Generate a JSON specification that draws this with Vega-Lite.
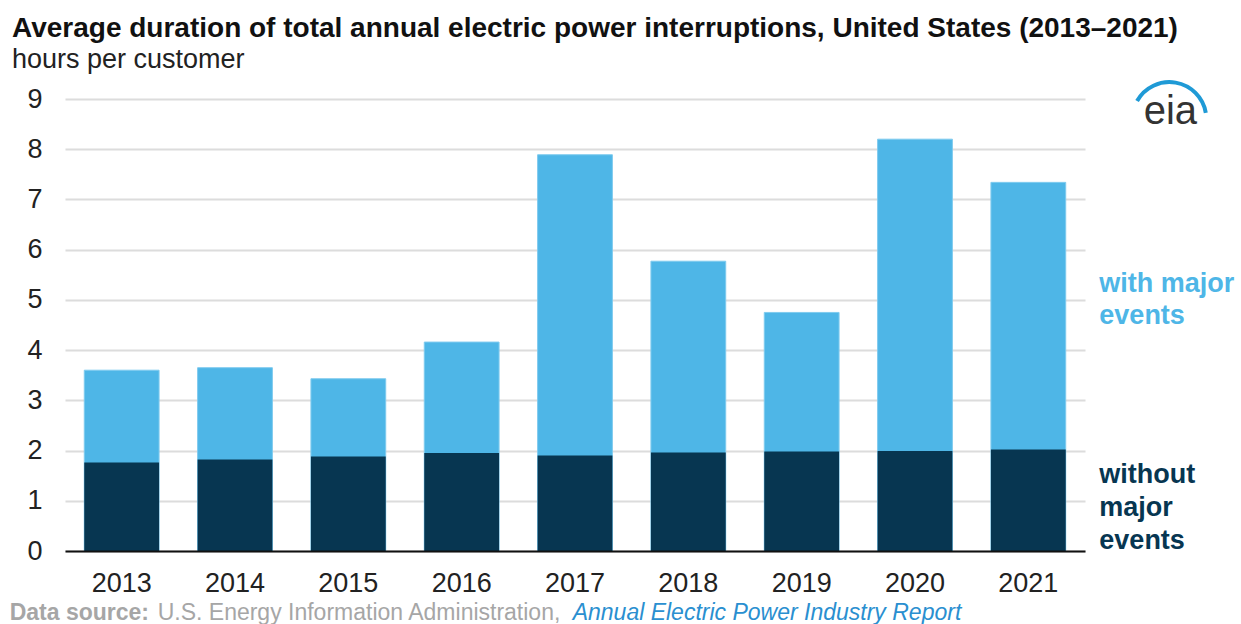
{
  "$schema": "https://vega.github.io/schema/vega-lite/v6.json",
  "width": 1020,
  "height": 452,
  "autosize": {"type": "none"},
  "padding": {"left": 65, "top": 99, "right": 156, "bottom": 73},
  "background": "white",
  "title": {
    "text": "Average duration of total annual electric power interruptions, United States (2013–2021)",
    "subtitle": "hours per customer",
    "anchor": "start",
    "frame": "group",
    "dx": -53,
    "offset": 7,
    "font": "Liberation Sans",
    "fontSize": 28,
    "fontWeight": "bold",
    "color": "#111111",
    "subtitleFont": "Liberation Sans",
    "subtitleFontSize": 27,
    "subtitleColor": "#222222",
    "subtitlePadding": 4
  },
  "config": {
    "view": {"stroke": null},
    "font": "Liberation Sans"
  },
  "datasets": {
    "interruptions": [
      {"year": "2013", "with_major_events": 3.60, "without_major_events": 1.76},
      {"year": "2014", "with_major_events": 3.65, "without_major_events": 1.82},
      {"year": "2015", "with_major_events": 3.43, "without_major_events": 1.88},
      {"year": "2016", "with_major_events": 4.16, "without_major_events": 1.95},
      {"year": "2017", "with_major_events": 7.89, "without_major_events": 1.90},
      {"year": "2018", "with_major_events": 5.77, "without_major_events": 1.96},
      {"year": "2019", "with_major_events": 4.75, "without_major_events": 1.98},
      {"year": "2020", "with_major_events": 8.20, "without_major_events": 1.99},
      {"year": "2021", "with_major_events": 7.34, "without_major_events": 2.02}
    ]
  },
  "layer": [
    {
      "data": {"name": "interruptions"},
      "mark": {"type": "bar", "color": "#4eb6e7", "stroke": "#7fcbef", "strokeWidth": 1},
      "encoding": {
        "x": {
          "field": "year", "type": "nominal", "title": null,
          "scale": {"domain": ["2013","2014","2015","2016","2017","2018","2019","2020","2021"], "paddingInner": 0.34, "paddingOuter": 0.17},
          "axis": {
            "title": null, "labelAngle": 0, "labelFontSize": 27, "labelColor": "#222222",
            "labelPadding": 19, "ticks": false, "domainColor": "#111111", "domainWidth": 2, "zindex": 1
          }
        },
        "y": {
          "field": "with_major_events", "type": "quantitative", "title": null,
          "scale": {"domain": [0, 9]},
          "axis": {
            "title": null, "values": [0,1,2,3,4,5,6,7,8,9], "labelFontSize": 27, "labelColor": "#222222",
            "labelPadding": 23, "ticks": false, "domain": false, "gridColor": "#dcdcdc", "gridWidth": 2
          }
        }
      }
    },
    {
      "data": {"name": "interruptions"},
      "mark": {"type": "bar", "color": "#073651"},
      "encoding": {
        "x": {"field": "year", "type": "nominal", "title": null},
        "y": {"field": "without_major_events", "type": "quantitative", "title": null}
      }
    },
    {
      "data": {"values": [{}]},
      "mark": {"type": "text", "text": ["with major", "events"], "align": "left", "baseline": "middle", "dx": 71, "fontSize": 27, "fontWeight": "bold", "color": "#4eb6e7", "lineHeight": 32},
      "encoding": {
        "x": {"datum": "2021", "type": "nominal"},
        "y": {"datum": 5.32, "type": "quantitative"}
      }
    },
    {
      "data": {"values": [{}]},
      "mark": {"type": "text", "text": ["without", "major", "events"], "align": "left", "baseline": "middle", "dx": 71, "fontSize": 27, "fontWeight": "bold", "color": "#073651", "lineHeight": 33},
      "encoding": {
        "x": {"datum": "2021", "type": "nominal"},
        "y": {"datum": 1.52, "type": "quantitative"}
      }
    },
    {
      "data": {"values": [{}]},
      "mark": {"type": "arc", "theta": -1.06, "theta2": 1.4, "innerRadius": 35, "outerRadius": 39, "color": "#1f9ad6", "xOffset": 141},
      "encoding": {
        "x": {"datum": "2021", "type": "nominal"},
        "y": {"datum": 8.6, "type": "quantitative"}
      }
    },
    {
      "data": {"values": [{}]},
      "mark": {"type": "text", "text": "eia", "align": "center", "baseline": "alphabetic", "dx": 142, "fontSize": 40, "fontWeight": "normal", "color": "#333333"},
      "encoding": {
        "x": {"datum": "2021", "type": "nominal"},
        "y": {"datum": 8.5, "type": "quantitative"}
      }
    },
    {
      "data": {"values": [{}]},
      "mark": {"type": "text", "text": "Data source:", "align": "left", "baseline": "alphabetic", "dx": -112, "fontSize": 23, "fontWeight": "bold", "color": "#a6a6a6"},
      "encoding": {
        "x": {"datum": "2013", "type": "nominal"},
        "y": {"datum": -1.38, "type": "quantitative"}
      }
    },
    {
      "data": {"values": [{}]},
      "mark": {"type": "text", "text": "U.S. Energy Information Administration,", "align": "left", "baseline": "alphabetic", "dx": 36, "fontSize": 23, "color": "#a6a6a6"},
      "encoding": {
        "x": {"datum": "2013", "type": "nominal"},
        "y": {"datum": -1.38, "type": "quantitative"}
      }
    },
    {
      "data": {"values": [{}]},
      "mark": {"type": "text", "text": "Annual Electric Power Industry Report", "align": "left", "baseline": "alphabetic", "dx": 451, "fontSize": 23, "fontStyle": "italic", "color": "#2a8fd0"},
      "encoding": {
        "x": {"datum": "2013", "type": "nominal"},
        "y": {"datum": -1.38, "type": "quantitative"}
      }
    }
  ]
}
